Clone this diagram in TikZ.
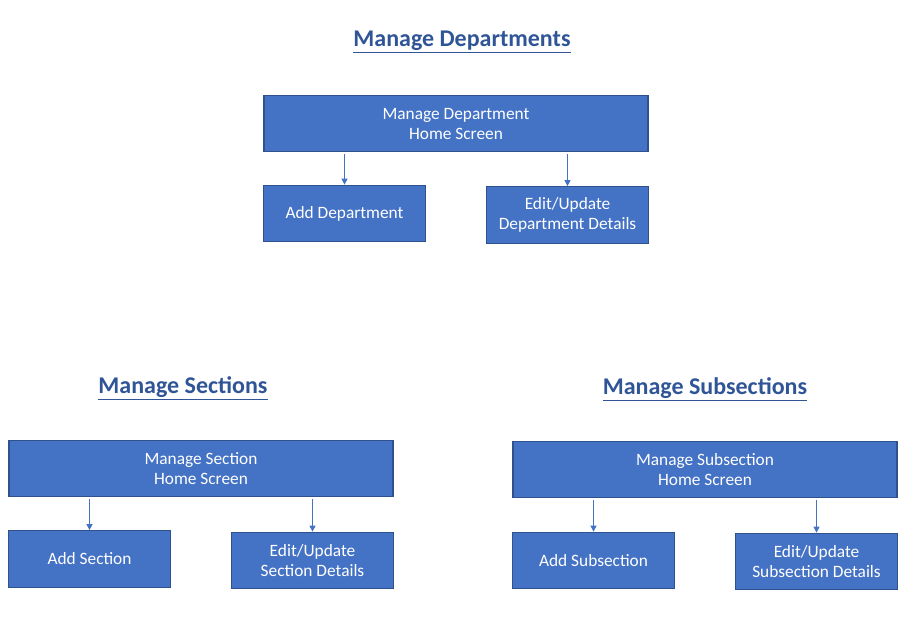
\documentclass[tikz,border=0pt]{standalone}
\usepackage{fontspec}
\setmainfont{Carlito}
\usetikzlibrary{arrows.meta, positioning}
\definecolor{boxblue}{HTML}{4472C4}
\definecolor{boxline}{HTML}{2F528F}
\definecolor{titleblue}{HTML}{2F5597}

\begin{document}
\begin{tikzpicture}[x=0.75pt, y=-0.75pt,
    box/.style={rectangle, draw=boxline, fill=boxblue, line width=0.8pt,
                text=white, align=center, font=\fontsize{13}{15}\selectfont,
                inner sep=0pt},
    homebox/.style={box, minimum width=288pt, minimum height=42pt},
    subbox/.style={box, minimum width=121pt, minimum height=42.5pt},
    title/.style={text=titleblue, font=\fontsize{18}{21}\selectfont\bfseries},
    arr/.style={-{Triangle[length=4.5pt, width=4.5pt]}, draw=boxblue, line width=0.6pt,
                shorten <=1.5pt}]
    \useasboundingbox (0,0) rectangle (912,620);

    % departments
    \node[title] (tdept) at (462,42) {\underline{Manage Departments}};
    \node[homebox] (dhome) at (456,123.5) {Manage Department\\Home Screen};
    \node[subbox] (dadd) at (344.5,213.5) {Add Department};
    \node[subbox] (dedit) at (567.5,215) {Edit/Update\\Department Details};

    \draw[arr] (dhome.south -| dadd.north) -- (dadd.north);
    \draw[arr] (dhome.south -| dedit.north) -- (dedit.north);

    % sections
    \node[title] (tsect) at (183,388) {\underline{Manage Sections}};
    \node[homebox] (shome) at (201,468.5) {Manage Section\\Home Screen};
    \node[subbox] (sadd) at (89.5,559) {Add Section};
    \node[subbox] (sedit) at (312.5,560.5) {Edit/Update\\Section Details};

    \draw[arr] (shome.south -| sadd.north) -- (sadd.north);
    \draw[arr] (shome.south -| sedit.north) -- (sedit.north);

    % subsections
    \node[title] (tsub) at (705,389) {\underline{Manage Subsections}};
    \node[homebox] (uhome) at (705,469.5) {Manage Subsection\\Home Screen};
    \node[subbox] (uadd) at (593.5,560.5) {Add Subsection};
    \node[subbox] (uedit) at (816.5,561.5) {Edit/Update\\Subsection Details};

    \draw[arr] (uhome.south -| uadd.north) -- (uadd.north);
    \draw[arr] (uhome.south -| uedit.north) -- (uedit.north);
\end{tikzpicture}
\end{document}
